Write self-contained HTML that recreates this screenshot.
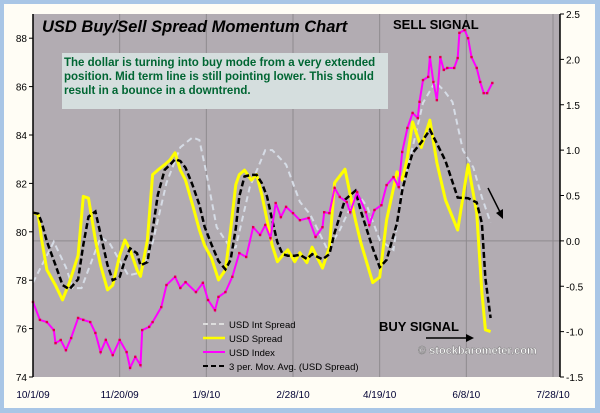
<!DOCTYPE html>
<html><head><meta charset="utf-8"><style>
body{margin:0;background:#a9c6e6;}
#wrap{position:relative;width:600px;height:413px;overflow:hidden;font-family:"Liberation Sans",sans-serif;}
</style></head><body>
<div id="wrap">
<svg id="chart" width="600" height="413" xmlns="http://www.w3.org/2000/svg">
<rect x="0" y="0" width="600" height="413" fill="#a9c6e6"/>
<rect x="4" y="4" width="591" height="404" fill="#fffdf5"/>
<rect x="33" y="14" width="527" height="363" fill="#b2acb2"/>
<g id="grid"></g><g id="series"></g><g id="axes"></g>
<text x="42" y="32" font-size="16.5" font-weight="bold" font-style="italic" fill="#000">USD Buy/Sell Spread Momentum Chart</text>
<rect x="62" y="53" width="326" height="56" fill="#d5dede"/>
<g font-size="11.5" font-weight="bold" fill="#006633">
<text x="64" y="66">The dollar is turning into buy mode from a very extended</text>
<text x="64" y="80">position.  Mid term line is still pointing lower.  This should</text>
<text x="64" y="94">result in a bounce in a downtrend.</text></g>
<text x="393" y="29" font-size="13" font-weight="bold">SELL SIGNAL</text>
<text x="379" y="331" font-size="13" font-weight="bold">BUY SIGNAL</text>
<g><line x1="426" y1="338" x2="466" y2="338" stroke="#000" stroke-width="1.5"/><polygon points="466,334 474,338 466,342" fill="#000"/></g>
<g><line x1="488" y1="188" x2="500" y2="212" stroke="#000" stroke-width="1.5"/><polygon points="496,213 503,219 503,209" fill="#000"/></g>
<text x="418" y="354" font-size="11" font-weight="bold" fill="#fff" stroke="#777" stroke-width="0.4">© stockbarometer.com</text>
<g font-size="9.5" fill="#000">
<line x1="203" y1="324" x2="225" y2="324" stroke="#ddd" stroke-width="2" stroke-dasharray="5,3"/><text x="229" y="328">USD Int Spread</text>
<line x1="203" y1="338" x2="225" y2="338" stroke="#ffff00" stroke-width="2.5"/><text x="229" y="342">USD Spread</text>
<line x1="203" y1="352" x2="225" y2="352" stroke="#ff00ff" stroke-width="2"/><text x="229" y="356">USD Index</text>
<line x1="203" y1="366" x2="225" y2="366" stroke="#000" stroke-width="2" stroke-dasharray="5,3"/><text x="229" y="370">3 per. Mov. Avg. (USD Spread)</text>
</g>
</svg>
</div>
<script>
const xTickLabels=["10/1/09","11/20/09","1/9/10","2/28/10","4/19/10","6/8/10","7/28/10"];
const leftTicks=[74,76,78,80,82,84,86,88];
const rightTicks=[-1.5,-1.0,-0.5,0.0,0.5,1.0,1.5,2.0,2.5];
const spreadDays=[0,3,5,8,13,17,21,26,29,32,36,39,43,46,50,53,56,60,62,66,69,72,76,79,82,85,88,92,96,99,103,107,111,114,117,119,122,126,129,132,135,138,141,144,147,151,154,158,161,167,171,174,180,186,189,196,200,204,210,213,216,219,224,229,233,238,245,251,256,259,261,264];
const spreadVals=[0.31,0.29,0.01,-0.32,-0.49,-0.65,-0.46,-0.16,0.49,0.47,0.01,-0.27,-0.54,-0.49,-0.16,0.01,-0.10,-0.32,-0.39,0.01,0.73,0.78,0.84,0.89,0.97,0.78,0.67,0.40,0.12,-0.05,-0.19,-0.43,-0.32,0.12,0.62,0.73,0.78,0.67,0.73,0.51,0.23,-0.05,-0.23,-0.16,-0.10,-0.23,-0.13,-0.24,-0.07,-0.30,-0.07,0.64,0.79,0.23,-0.01,-0.46,-0.40,0.23,0.76,0.67,0.92,1.31,1.03,1.33,0.86,0.45,0.12,0.84,0.31,-0.57,-0.98,-1.00];
const intDays=[0,12,19,23,28,39,44,55,62,69,77,85,92,96,100,106,114,117,125,134,138,146,154,160,170,177,187,193,200,208,213,219,225,232,237,242,248,254,259,264];
const intVals=[-0.46,-0.01,-0.29,-0.52,-0.52,0.04,-0.02,-0.38,-0.35,-0.02,0.64,1.03,1.14,1.11,0.75,0.15,-0.08,-0.07,0.59,1.00,1.00,0.84,0.43,0.29,-0.10,0.12,0.53,0.37,0.01,-0.10,0.59,1.03,1.52,1.75,1.66,1.53,1.00,0.81,0.48,0.20];
const indexDays=[0,4,8,12,13,16,19,22,26,29,33,36,39,42,46,50,54,56,59,62,63,67,69,74,77,82,85,88,94,98,101,105,107,111,115,119,123,127,131,134,137,140,143,146,150,154,159,163,167,168,171,174,177,181,183,187,192,194,197,201,204,208,211,213,216,219,222,223,225,228,229,231,233,235,237,239,243,245,246,249,251,253,256,258,260,262,265];
const indexVals=[77.10,76.36,76.27,75.94,75.40,75.53,75.11,75.61,76.44,76.36,76.27,75.82,75.03,75.53,74.91,75.53,75.03,74.38,74.83,74.49,75.94,76.07,76.27,76.89,77.80,78.14,77.68,77.92,77.51,77.89,77.18,76.76,77.31,77.51,78.14,79.12,78.96,80.19,79.87,80.28,79.74,81.19,80.61,81.03,80.77,80.48,80.57,79.79,80.19,80.81,80.77,81.81,81.44,81.23,80.81,81.64,80.81,80.28,80.90,81.10,81.93,82.26,81.85,83.30,84.29,84.91,84.70,85.37,86.27,86.40,87.22,86.19,85.44,87.22,86.69,86.77,86.77,87.18,88.22,88.34,88.00,87.22,86.77,86.19,85.73,85.73,86.15];

const NS="http://www.w3.org/2000/svg";
const X0=33,X1=553,XR=560,Y0=14,Y1=377;
const xScale=d=>X0+d/300*(X1-X0);
const yLeft=v=>Y1-(v-74)/15*(Y1-Y0);
const yRight=v=>Y1-(v+1.5)/4*(Y1-Y0);
function mk(tag,attrs,parent){const e=document.createElementNS(NS,tag);for(const k in attrs)e.setAttribute(k,attrs[k]);parent.appendChild(e);return e;}
const grid=document.getElementById('grid'),ser=document.getElementById('series'),axes=document.getElementById('axes');
const zl=mk('line',{x1:X0,x2:XR,y1:yRight(0),y2:yRight(0),stroke:'#8e8a8e','stroke-width':1},grid);


xTickLabels.forEach((t,i)=>{const x=xScale(i*50);
 if(i>0){const l=mk('line',{x1:x,x2:x,y1:Y0,y2:Y1,stroke:'#8e8a8e','stroke-width':1},grid);
 
 }
 const tx=mk('text',{x:x,y:398,'font-size':10,'text-anchor':'middle',fill:'#000033'},axes);tx.textContent=t;
 
 });
mk('line',{x1:X0,x2:X0,y1:Y0,y2:Y1,stroke:'#000','stroke-width':1.5},axes);
mk('line',{x1:XR,x2:XR,y1:Y0,y2:Y1,stroke:'#000','stroke-width':1.5},axes);
leftTicks.forEach(v=>{const y=yLeft(v);mk('line',{x1:X0-4,x2:X0,y1:y,y2:y,stroke:'#000'},axes);
 const t=mk('text',{x:27,y:y+4,'font-size':10,'text-anchor':'end'},axes);t.textContent=v;
 
 });
rightTicks.forEach(v=>{const y=yRight(v);mk('line',{x1:XR,x2:XR+4,y1:y,y2:y,stroke:'#000'},axes);
 const t=mk('text',{x:566,y:y+4,'font-size':10},axes);t.textContent=(v<0?'-':'')+Math.abs(v).toFixed(1);
 
 });
function path(days,vals,ys){return days.map((d,i)=>(i?'L':'M')+xScale(d).toFixed(1)+','+ys(vals[i]).toFixed(1)).join(' ');}
const pInt=mk('path',{d:path(intDays,intVals,yRight),fill:'none',stroke:'#d6dce6','stroke-width':2,'stroke-dasharray':'6,4'},ser);


const pSp=mk('path',{d:path(spreadDays,spreadVals,yRight),fill:'none',stroke:'#ffff00','stroke-width':3,'stroke-linejoin':'round'},ser);


const ma=spreadVals.map((v,i)=>{const a=spreadVals.slice(Math.max(0,i-2),i+1);return a.reduce((s,x)=>s+x,0)/a.length;});
const pMa=mk('path',{d:path(spreadDays,ma,yRight),fill:'none',stroke:'#000','stroke-width':2.5,'stroke-dasharray':'6,3'},ser);


const pIdx=mk('path',{d:path(indexDays,indexVals,yLeft),fill:'none',stroke:'#ff00ff','stroke-width':2},ser);


indexDays.forEach((d,i)=>{const c=mk('rect',{x:xScale(d)-1.2,y:yLeft(indexVals[i])-1.2,width:2.4,height:2.4,fill:'#e0004a'},ser);
 
 });
</script>
</body></html>
